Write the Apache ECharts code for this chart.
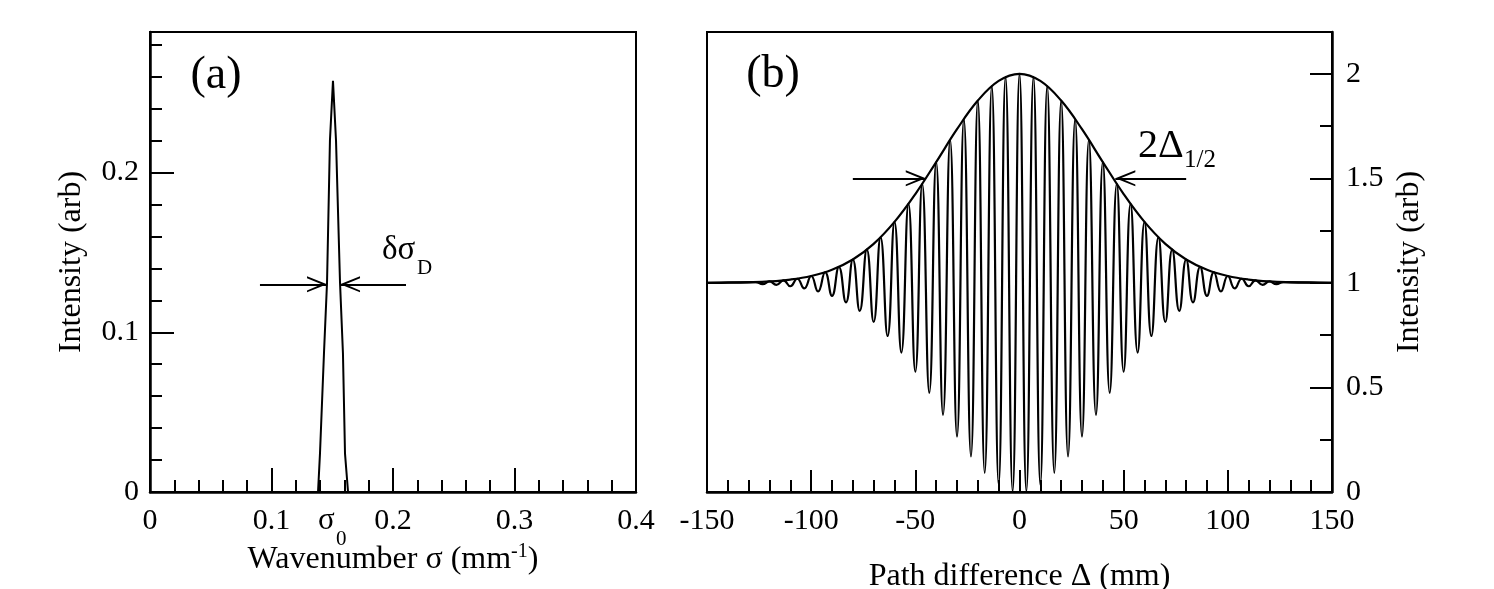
<!DOCTYPE html>
<html><head><meta charset="utf-8">
<script src="https://cdn.jsdelivr.net/npm/echarts@6/dist/echarts.min.js"></script>
<style>html,body{margin:0;padding:0;background:#fff}#c{width:1494px;height:589px}</style>
</head><body><div id="c"></div>
<script>
const FONT = '"Liberation Serif","Times New Roman",serif';
const BLACK = '#000';

// ---- Panel (a): spectrum (wavenumber sigma, mm^-1) ----
const specSigma = [0, 0.1383, 0.1399, 0.1432, 0.1457, 0.1481, 0.1506, 0.1531, 0.1564, 0.1588, 0.1605, 0.1630, 0.4];
const specI     = [0, 0,      0.024,  0.087,  0.131,  0.220,  0.2575, 0.220,  0.131,  0.087,  0.024,  0,      0];
const xTicksA = [0, 0.1, 0.2, 0.3, 0.4];
const yTicksA = [0, 0.1, 0.2];
// FWHM arrows of panel (a): tail -> tip at intensity arrowAY
const arrowAY = 0.13;
const arrowATails = [0.0905, 0.2107];
const arrowATips  = [0.1457, 0.1564];

// ---- Panel (b): interferogram (path difference Delta, mm) ----
const fringeDelta = [-150, -126.7, -123.3, -120, -116.7, -113.3, -110, -106.7, -103.3, -100, -96.7,
  -93.3, -90, -86.7, -83.3, -80, -76.7, -73.3, -70, -66.7, -63.3,
  -60, -56.7, -53.3, -50, -46.7, -43.3, -40, -36.7, -33.3, -30,
  -26.7, -23.3, -20, -16.7, -13.3, -10, -6.7, -3.3, 0,
  3.3, 6.7, 10, 13.3, 16.7, 20, 23.3, 26.7,
  30, 33.3, 36.7, 40, 43.3, 46.7, 50, 53.3, 56.7, 60,
  63.3, 66.7, 70, 73.3, 76.7, 80, 83.3, 86.7, 90, 93.3,
  96.7, 100, 103.3, 106.7, 110, 113.3, 116.7, 120, 123.3, 126.7, 150];
const fringeI = [1, 1.004, 0.994, 1.007, 0.991, 1.012, 0.984, 1.020, 0.974, 1.033, 0.959,
  1.051, 0.938, 1.076, 0.907, 1.112, 0.866, 1.159, 0.813, 1.218, 0.746,
  1.292, 0.667, 1.378, 0.575, 1.474, 0.474, 1.578, 0.369, 1.684, 0.265,
  1.784, 0.170, 1.872, 0.091, 1.941, 0.034, 1.985, 0.004, 2.000,
  0.004, 1.985, 0.034, 1.941, 0.091, 1.872, 0.170, 1.784,
  0.265, 1.684, 0.369, 1.578, 0.474, 1.474, 0.575, 1.378, 0.667, 1.292,
  0.746, 1.218, 0.813, 1.159, 0.866, 1.112, 0.907, 1.076, 0.938, 1.051,
  0.959, 1.033, 0.974, 1.020, 0.984, 1.012, 0.991, 1.007, 0.994, 1.004, 1];
const envDelta = [-150, -140, -130, -120, -110, -100, -90, -80, -70, -60, -50, -40, -30, -20, -10, 0,
  10, 20, 30, 40, 50, 60, 70, 80, 90, 100, 110, 120, 130, 140, 150];
const envI = [1.000, 1.001, 1.003, 1.007, 1.016, 1.033, 1.063, 1.112, 1.187, 1.292, 1.425, 1.578, 1.735, 1.872, 1.966, 2.000,
  1.966, 1.872, 1.735, 1.578, 1.425, 1.292, 1.187, 1.112, 1.063, 1.033, 1.016, 1.007, 1.003, 1.001, 1.000];
const xTicksB = [-150, -100, -50, 0, 50, 100, 150];
const yTicksB = [0, 0.5, 1, 1.5, 2];
const arrowBY = 1.5;
const arrowBTails = [-80, 80];
const arrowBTips  = [-45, 46];

// ---- helpers ----
const zip = (xs, ys) => xs.map((x, i) => [x, ys[i]]);
const fmt = (list) => (v) => list.some(t => Math.abs(t - v) < 1e-9) ? String(v) : '';
const lineStyle = { color: BLACK, width: 2.5 };
const tickStyle = { color: BLACK, width: 2 };
const tickLabel = { color: BLACK, fontFamily: FONT, fontSize: 30 };
const nameStyle = { color: BLACK, fontFamily: FONT, fontSize: 32,
  rich: { t: { color: BLACK, fontFamily: FONT, fontSize: 32 },
          s: { color: BLACK, fontFamily: FONT, fontSize: 20, padding: [0, 0, 16, 0] } } };
// open V arrowhead, tip at the symbol centre
const arrowHead = 'path://M10,0L10.01,0L10,0Z M10,24L20,48L17.6,48L10,30.5L2.4,48L0,48Z';
const arrows = (tails, tips, y) => ({
  silent: true, animation: false,
  symbol: ['none', arrowHead], symbolSize: [16, 40],
  lineStyle: { color: BLACK, width: 2, type: 'solid' },
  label: { show: false }, emphasis: { disabled: true },
  data: tails.map((t, i) => [{ coord: [t, y] }, { coord: [tips[i], y] }])
});

const chart = echarts.init(document.getElementById('c'));
chart.setOption({
  animation: false,
  backgroundColor: '#fff',
  grid: [
    { left: 150, top: 32, width: 486, height: 460, outerBoundsMode: 'none', containLabel: false,
      show: true, borderColor: BLACK, borderWidth: 2, backgroundColor: 'transparent' },
    { left: 707, top: 32, width: 625, height: 460, outerBoundsMode: 'none', containLabel: false,
      show: true, borderColor: BLACK, borderWidth: 2, backgroundColor: 'transparent' }
  ],
  xAxis: [
    { gridIndex: 0, type: 'value', min: 0, max: 0.4, interval: 0.1,
      axisLine: { show: true, onZero: false, lineStyle },
      axisTick: { show: true, inside: true, length: 24, lineStyle: tickStyle },
      minorTick: { show: true, splitNumber: 5, length: 12, lineStyle: tickStyle },
      axisLabel: Object.assign({}, tickLabel, { margin: 14, formatter: fmt(xTicksA) }),
      splitLine: { show: false },
      name: '{t|Wavenumber σ (mm}{s|-1}{t|)}', nameLocation: 'middle', nameGap: 50, nameTextStyle: nameStyle },
    { gridIndex: 1, type: 'value', min: -150, max: 150, interval: 50,
      axisLine: { show: true, onZero: false, lineStyle },
      axisTick: { show: true, inside: true, length: 22, lineStyle: tickStyle },
      minorTick: { show: true, splitNumber: 5, length: 12, lineStyle: tickStyle },
      axisLabel: Object.assign({}, tickLabel, { margin: 14, formatter: fmt(xTicksB) }),
      splitLine: { show: false },
      name: 'Path difference Δ (mm)', nameLocation: 'middle', nameGap: 69, nameTextStyle: nameStyle }
  ],
  yAxis: [
    { gridIndex: 0, type: 'value', min: 0, max: 0.288, interval: 0.1, position: 'left',
      axisLine: { show: true, onZero: false, lineStyle },
      axisTick: { show: true, inside: true, length: 24, lineStyle: tickStyle },
      axisLabel: Object.assign({}, tickLabel, { margin: 11, showMaxLabel: false, formatter: fmt(yTicksA) }),
      splitLine: { show: false },
      name: 'Intensity (arb)', nameLocation: 'middle', nameRotate: 90, nameGap: 62, nameTextStyle: nameStyle },
    { gridIndex: 0, type: 'value', min: 0, max: 0.288, interval: 0.02, position: 'left',
      axisLine: { show: false, onZero: false }, axisTick: { show: true, inside: true, length: 12, lineStyle: tickStyle },
      axisLabel: { show: false }, splitLine: { show: false } },
    { gridIndex: 1, type: 'value', min: 0, max: 2.2, interval: 0.5, position: 'right',
      axisLine: { show: true, onZero: false, lineStyle },
      axisTick: { show: true, inside: true, length: 22, lineStyle: tickStyle },
      axisLabel: Object.assign({}, tickLabel, { margin: 14, showMaxLabel: false, formatter: fmt(yTicksB) }),
      splitLine: { show: false },
      name: 'Intensity (arb)', nameLocation: 'middle', nameRotate: 90, nameGap: 62, nameTextStyle: nameStyle },
    { gridIndex: 1, type: 'value', min: 0, max: 2.2, interval: 0.25, position: 'right',
      axisLine: { show: false, onZero: false }, axisTick: { show: true, inside: true, length: 12, lineStyle: tickStyle },
      axisLabel: { show: false }, splitLine: { show: false } }
  ],
  series: [
    { type: 'line', xAxisIndex: 0, yAxisIndex: 0, data: zip(specSigma, specI),
      showSymbol: false, lineStyle: { color: BLACK, width: 2 }, silent: true,
      markLine: arrows(arrowATails, arrowATips, arrowAY) },
    { type: 'line', xAxisIndex: 1, yAxisIndex: 2, data: zip(fringeDelta, fringeI),
      showSymbol: false, smooth: 0.5, lineStyle: { color: BLACK, width: 2.2 }, silent: true,
      markLine: arrows(arrowBTails, arrowBTips, arrowBY) },
    { type: 'line', xAxisIndex: 1, yAxisIndex: 2, data: zip(envDelta, envI),
      showSymbol: false, smooth: 0.4, lineStyle: { color: BLACK, width: 2.2 }, silent: true }
  ],
  graphic: [
    { type: 'text', x: 216, y: 76, style: { text: '(a)', fontSize: 46, fontFamily: FONT, fill: BLACK, align: 'center', verticalAlign: 'middle' } },
    { type: 'text', x: 773, y: 75, style: { text: '(b)', fontSize: 46, fontFamily: FONT, fill: BLACK, align: 'center', verticalAlign: 'middle' } },
    { type: 'text', x: 382, y: 250, style: { text: 'δσ', fontSize: 33, fontFamily: FONT, fill: BLACK, align: 'left', verticalAlign: 'middle' } },
    { type: 'text', x: 417, y: 268, style: { text: 'D', fontSize: 21, fontFamily: FONT, fill: BLACK, align: 'left', verticalAlign: 'middle' } },
    { type: 'text', x: 1138, y: 146, style: { text: '2Δ', fontSize: 40, fontFamily: FONT, fill: BLACK, align: 'left', verticalAlign: 'middle' } },
    { type: 'text', x: 1184, y: 160, style: { text: '1/2', fontSize: 25, fontFamily: FONT, fill: BLACK, align: 'left', verticalAlign: 'middle' } },
    { type: 'text', x: 318, y: 521, style: { text: 'σ', fontSize: 31, fontFamily: FONT, fill: BLACK, align: 'left', verticalAlign: 'middle' } },
    { type: 'text', x: 336, y: 539, style: { text: '0', fontSize: 21, fontFamily: FONT, fill: BLACK, align: 'left', verticalAlign: 'middle' } }
  ]
});
</script>
</body></html>
